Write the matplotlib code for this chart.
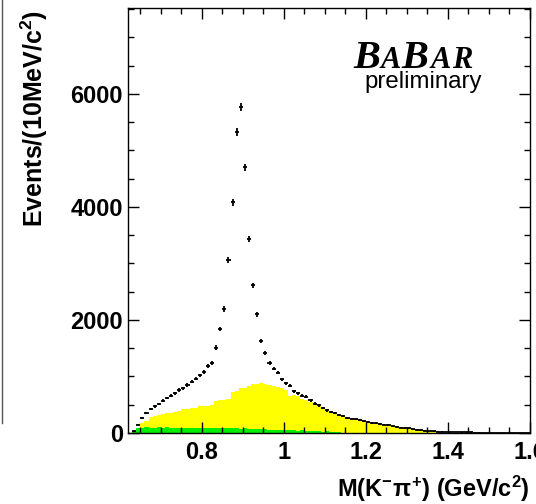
import numpy as np
import matplotlib
matplotlib.use("Agg")
import matplotlib.pyplot as plt
from matplotlib.ticker import MultipleLocator, FuncFormatter
from matplotlib.lines import Line2D

plt.rcParams['font.family'] = ['Liberation Sans', 'DejaVu Sans']
plt.rcParams['mathtext.fontset'] = 'custom'
plt.rcParams['mathtext.rm'] = 'Liberation Sans:bold'
plt.rcParams['mathtext.it'] = 'Liberation Sans:bold'
plt.rcParams['mathtext.bf'] = 'Liberation Sans:bold'

# 10 MeV bins starting at 0.63 GeV/c^2
bin_lo = 0.63
bin_w = 0.01

# data points (events per bin)
data_counts = [
    30, 150, 260, 360, 420, 470, 510, 570, 620, 660,
    700, 760, 790, 850, 910, 960, 1020, 1080, 1180, 1240,
    1510, 1840, 2195, 3060, 4080, 5320, 5770, 4700, 3430, 2610,
    2100, 1630, 1410, 1240, 1140, 1070, 950, 880, 840, 740,
    700, 660, 640, 580, 520, 490, 440, 400, 375, 355,
    320, 300, 270, 255, 240, 225, 205, 195, 180, 170,
    160, 148, 140, 120, 105, 95, 88, 82, 70, 58,
    50, 42, 36, 30, 25, 22, 19, 17, 15, 14,
    12, 11, 10, 8, 7, 6, 4, 3, 2, 2,
    1, 2, 1, 1, 1, 0, 1,
]

# yellow component
yellow_counts = [
    30, 80, 180, 220, 280, 300, 310, 330, 350, 360,
    370, 390, 420, 430, 440, 450, 470, 480, 480, 500,
    560, 580, 590, 600, 720, 740, 790, 800, 830, 860,
    870, 890, 870, 850, 830, 810, 790, 760, 660, 670,
    660, 610, 590, 550, 510, 480, 430, 390, 360, 340,
    310, 290, 265, 245, 230, 215, 195, 180, 170, 160,
    150, 140, 130, 110, 100, 90, 80, 75, 65, 55,
    48, 40, 34, 28, 24, 20, 16, 12, 8, 5,
    3, 2, 0, 0, 0, 0, 0, 0, 0, 0,
    0, 0, 0, 0, 0, 0, 0,
]

# green component
green_counts = [
    40, 80, 90, 100, 95, 90, 100, 95, 100, 90,
    85, 95, 90, 80, 85, 90, 85, 80, 85, 90,
    85, 80, 90, 85, 80, 85, 75, 80, 70, 75,
    70, 65, 70, 60, 55, 60, 50, 55, 45, 50,
    40, 45, 35, 40, 30, 35, 25, 30, 20, 15,
    10, 8, 5, 0, 0, 0, 0, 0, 0, 0,
    0, 0, 0, 0, 0, 0, 0, 0, 0, 0,
    0, 0, 0, 0, 0, 0, 0, 0, 0, 0,
    0, 0, 0, 0, 0, 0, 0, 0, 0, 0,
    0, 0, 0, 0, 0, 0, 0,
]

n = len(data_counts)
edges = np.round(bin_lo + bin_w * np.arange(n + 1), 4)
centers = 0.5 * (edges[:-1] + edges[1:])
data = np.array(data_counts, dtype=float)

W, H = 536, 504
fig = plt.figure(figsize=(W / 100, H / 100), dpi=100)
ax = fig.add_axes([128 / W, 1 - 433 / H, (530 - 128) / W, (433 - 8) / H])

ax.stairs(yellow_counts, edges, fill=True, color='#ffff00', lw=0)
ax.stairs(green_counts, edges, fill=True, color='#00ee00', lw=0)
ax.errorbar(centers, data, xerr=bin_w / 2, yerr=np.sqrt(data), fmt='none',
            ecolor='black', elinewidth=1.3, capsize=0)

ax.set_xlim(0.62, 1.6)
ax.set_ylim(0, 7520)
ax.xaxis.set_major_locator(MultipleLocator(0.2))
ax.xaxis.set_minor_locator(MultipleLocator(0.05))
ax.yaxis.set_major_locator(MultipleLocator(2000))
ax.yaxis.set_minor_locator(MultipleLocator(500))
ax.xaxis.set_major_formatter(FuncFormatter(lambda v, p: f"{v:g}"))
ax.tick_params(which='both', direction='in', top=True, right=True, width=1)
ax.tick_params(which='major', length=8)
ax.tick_params(which='minor', length=4)
ax.tick_params(axis='x', pad=5.5)
ax.tick_params(axis='y', pad=3.6)
for lab in ax.get_xticklabels() + ax.get_yticklabels():
    lab.set_fontsize(17)
    lab.set_fontweight('bold')
for sp in ax.spines.values():
    sp.set_linewidth(1.0)

fig.text(530 / W, 1 - 497 / H, r"M(K$^{-}\pi^{+}$) (GeV/c$^{2}$)", ha='right',
         va='baseline', fontsize=17, fontweight='bold')
fig.text(34 / W, 1 - 10 / H, r"Events/(10MeV/c$^{2}$)", rotation=90,
         ha='center', va='top', fontsize=18, fontweight='bold')

# BaBar logo
logo = [('B', 29, 353), ('A', 22, 381), ('B', 29, 401), ('A', 22, 431), ('R', 22, 452)]
for ch, size, xp in logo:
    fig.text(xp / W, 1 - 68.3 / H, ch, ha='left', va='baseline', fontsize=size,
             family='Liberation Serif', fontweight='bold', fontstyle='italic')
fig.text(482 / W, 1 - 88 / H, "preliminary", ha='right', va='baseline',
         fontsize=17.3)

# border of the neighbouring panel seen at the left edge
fig.add_artist(Line2D([1.5 / W, 1.5 / W], [1, 1 - 423 / H], transform=fig.transFigure,
                      color='#555555', lw=1))

fig.savefig("out.png", dpi=100)
